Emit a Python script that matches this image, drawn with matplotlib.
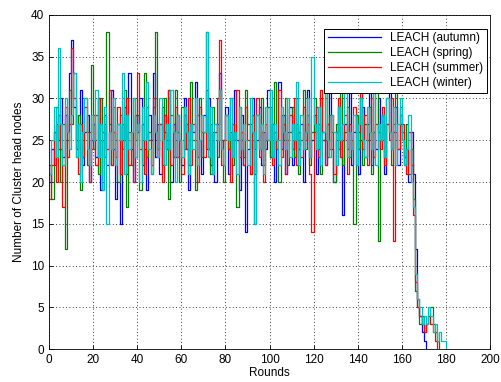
import matplotlib
matplotlib.use("Agg")
import matplotlib.pyplot as plt
import numpy as np

# number of cluster head nodes per round
autumn = [20, 24, 22, 27, 25, 30, 23, 28, 26, 33,
          37, 29, 24, 27, 31, 22, 26, 28, 20, 25,
          27, 23, 30, 19, 25, 28, 22, 26, 31, 24,
          18, 27, 15, 25, 29, 21, 33, 24, 20, 28,
          26, 30, 22, 24, 19, 28, 25, 33, 23, 27,
          21, 29, 26, 24, 31, 20, 27, 23, 28, 25,
          22, 30, 24, 19, 27, 26, 32, 23, 25, 21,
          28, 24, 30, 22, 26, 20, 27, 33, 24, 25,
          29, 21, 26, 23, 31, 25, 19, 28, 22, 14,
          24, 27, 30, 21, 25, 29, 22, 26, 24, 31,
          23, 27, 20, 25, 32, 24, 28, 21, 26, 29,
          22, 25, 30, 24, 27, 20, 26, 31, 23, 25,
          28, 21, 24, 30, 26, 22, 27, 33, 24, 20,
          25, 29, 23, 16, 27, 24, 31, 22, 26, 28,
          21, 25, 29, 23, 27, 31, 22, 26, 24, 30,
          25, 28, 21, 27, 33, 24, 26, 29, 22, 27,
          25, 22, 24, 20, 26, 21, 12, 6, 4, 2,
          1, 0]
spring = [22, 18, 26, 29, 24, 20, 27, 12, 25, 31,
          27, 33, 23, 28, 19, 25, 30, 22, 26, 34,
          24, 28, 21, 30, 26, 23, 38, 27, 22, 29,
          25, 20, 28, 24, 31, 17, 26, 22, 30, 25,
          28, 19, 27, 33, 23, 26, 21, 29, 38, 24,
          27, 22, 30, 25, 18, 28, 23, 31, 26, 20,
          29, 24, 27, 22, 32, 25, 19, 28, 30, 23,
          26, 38, 24, 21, 29, 27, 23, 31, 25, 20,
          28, 24, 30, 22, 26, 17, 29, 25, 23, 31,
          27, 21, 26, 15, 28, 24, 30, 22, 25, 29,
          23, 27, 32, 24, 20, 28, 25, 30, 22, 26,
          29, 23, 27, 21, 25, 31, 24, 28, 22, 26,
          30, 24, 27, 21, 25, 33, 23, 28, 26, 20,
          27, 24, 31, 22, 26, 29, 23, 25, 15, 28,
          24, 30, 22, 27, 25, 29, 21, 26, 31, 13,
          25, 28, 23, 30, 26, 22, 27, 32, 24, 29,
          26, 23, 27, 21, 24, 18, 7, 5, 3, 4,
          2, 3, 4, 5, 3, 2, 1, 0]
summer = [18, 22, 26, 20, 28, 24, 17, 29, 23, 27,
          36, 30, 25, 21, 27, 23, 29, 26, 20, 24,
          28, 22, 30, 25, 19, 27, 24, 31, 22, 26,
          23, 29, 21, 27, 25, 30, 22, 26, 20, 28,
          33, 24, 27, 21, 29, 25, 22, 30, 26, 23,
          27, 20, 28, 24, 31, 22, 26, 29, 23, 25,
          21, 28, 24, 30, 22, 27, 25, 20, 29, 26,
          23, 31, 24, 27, 21, 26, 30, 37, 22, 25,
          28, 24, 20, 27, 25, 31, 23, 26, 22, 29,
          25, 21, 28, 24, 30, 23, 26, 20, 27, 25,
          29, 22, 26, 24, 31, 23, 27, 21, 25, 28,
          24, 30, 22, 26, 23, 29, 25, 27, 21, 14,
          26, 29, 23, 31, 25, 22, 27, 24, 28, 21,
          26, 30, 23, 25, 28, 21, 27, 24, 29, 22,
          26, 31, 24, 28, 22, 25, 30, 23, 27, 26,
          24, 29, 22, 27, 25, 30, 13, 26, 24, 28,
          27, 23, 21, 26, 22, 16, 8, 5, 4, 3,
          2, 3, 4, 3, 2, 1, 0]
winter = [21, 25, 29, 23, 36, 27, 22, 30, 26, 24,
          28, 33, 23, 27, 20, 26, 30, 24, 22, 28,
          25, 31, 23, 27, 19, 29, 15, 26, 24, 30,
          22, 27, 25, 33, 21, 28, 24, 26, 30, 23,
          27, 20, 29, 25, 32, 24, 21, 28, 26, 23,
          30, 25, 22, 27, 24, 31, 26, 20, 28, 25,
          23, 29, 26, 21, 27, 24, 30, 22, 25, 28,
          26, 38, 23, 29, 21, 27, 25, 31, 24, 22,
          28, 25, 30, 23, 26, 21, 29, 24, 27, 25,
          22, 30, 26, 15, 28, 24, 27, 21, 29, 25,
          31, 23, 27, 25, 22, 29, 26, 24, 30, 23,
          27, 25, 32, 22, 28, 24, 26, 30, 23, 35,
          27, 24, 29, 22, 26, 31, 25, 23, 28, 26,
          22, 29, 25, 27, 31, 23, 26, 24, 28, 22,
          27, 30, 25, 23, 29, 26, 24, 31, 22, 27,
          25, 28, 23, 30, 26, 24, 29, 22, 27, 30,
          25, 22, 24, 28, 20, 17, 9, 6, 5, 3,
          4, 3, 5, 4, 2, 3, 1, 2, 1, 1,
          0]

SERIES = [("LEACH (autumn)", autumn, "#0000ff"),
          ("LEACH (spring)", spring, "#008000"),
          ("LEACH (summer)", summer, "#ff0000"),
          ("LEACH (winter)", winter, "#00bfbf")]

plt.rcParams["font.family"] = ["Liberation Sans", "DejaVu Sans"]
plt.rcParams["font.size"] = 8.5

fig = plt.figure(figsize=(5.01, 3.82), dpi=100)
ax = fig.add_axes([0.098, 0.086, 0.880, 0.875])

# stairs-style lines, as in the original MATLAB figure
for name, vals, color in SERIES:
    ax.plot(np.arange(len(vals)), vals, color=color, lw=0.9,
            drawstyle="steps-post", label=name)

ax.set_xlim(0, 200)
ax.set_ylim(0, 40)
ax.set_xticks(np.arange(0, 201, 20))
ax.set_yticks(np.arange(0, 41, 5))
ax.grid(True, color="black", linestyle=(0, (1, 3)), lw=0.6)
ax.tick_params(direction="in", length=3, width=0.6)
for s in ax.spines.values():
    s.set_linewidth(0.6)
ax.set_xlabel("Rounds", labelpad=1)
ax.set_ylabel("Number of Cluster head nodes", labelpad=4)

leg = ax.legend(loc="upper right", bbox_to_anchor=(1.007, 0.976),
                fancybox=False, framealpha=1, edgecolor="black",
                handlelength=4.5, borderpad=0.3, labelspacing=0.25,
                fontsize=8.5)
leg.get_frame().set_linewidth(0.7)

fig.savefig("out.png", dpi=100)
